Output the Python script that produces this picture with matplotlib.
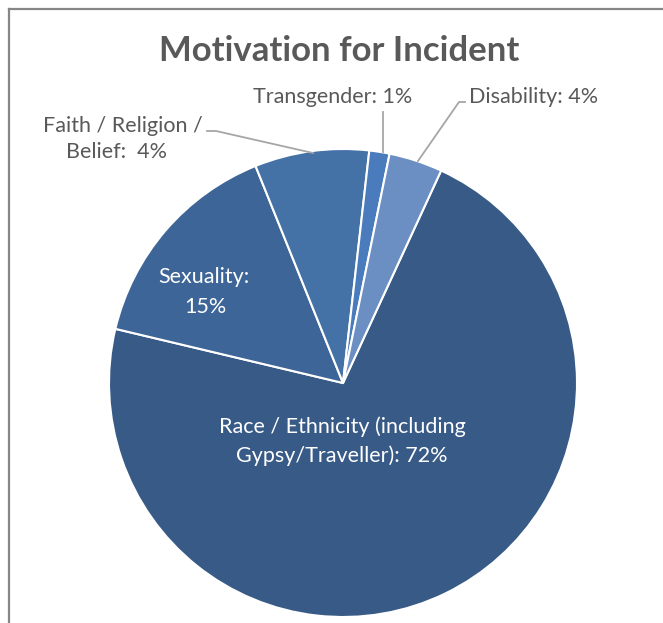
import matplotlib
matplotlib.use("Agg")
import matplotlib.pyplot as plt
from matplotlib.lines import Line2D

# ---- data ----
categories = ["Race / Ethnicity (including Gypsy/Traveller)", "Sexuality",
              "Faith / Religion / Belief", "Transgender", "Disability"]
values = [71.9, 15.2, 7.9, 1.4, 3.7]          # slice sizes as drawn
shown_pct = ["72%", "15%", "4%", "1%", "4%"]   # percentages printed on the labels
colors = ["#385A86", "#3E6597", "#4472A6", "#4A7BBC", "#6B8EC3"]

W, H = 663, 623
fig = plt.figure(figsize=(W / 100, H / 100), dpi=100)
ax = fig.add_axes([0, 0, 1, 1])
ax.set_xlim(0, W)
ax.set_ylim(0, H)
ax.set_aspect("equal")
ax.axis("off")

def Y(y):  # pixel row -> data y
    return H - y

cx, cy, r = 343, 383, 234
ax.pie(values, colors=colors, startangle=65.2, counterclock=False,
       center=(cx, Y(cy)), radius=r, frame=True,
       wedgeprops=dict(edgecolor="white", linewidth=1.5))
ax.set_xlim(0, W)
ax.set_ylim(0, H)
ax.axis("off")

font = "Lato"
gray = "#595959"
lead = "#A6A6A6"

# title
ax.text(339, Y(61), "Motivation for Incident", ha="center", va="baseline",
        fontsize=25, fontweight="bold", color=gray, family=font)

def txt(x, y, s, c=gray):
    ax.text(x, Y(y), s, ha="center", va="baseline", fontsize=15.5,
            color=c, family=font)

txt(122.5, 132, "Faith / Religion /")
txt(116, 158, "Belief:  " + shown_pct[2])
txt(333, 103, categories[3] + ": " + shown_pct[3])
txt(533.5, 103, categories[4] + ": " + shown_pct[4])
txt(204, 283, categories[1] + ":", "white")
txt(205, 313, shown_pct[1], "white")
txt(342.5, 433, "Race / Ethnicity (including", "white")
txt(341.5, 462, "Gypsy/Traveller): " + shown_pct[0], "white")

# leader lines
for xs, ys in [([207, 216, 313], [131, 131, 153]),
               ([383, 383], [112, 152]),
               ([465, 459, 418], [102, 102, 161])]:
    ax.plot(xs, [Y(v) for v in ys], color=lead, linewidth=1.3)

# chart frame (top and left visible)
fig.add_artist(Line2D([9 / W, 9 / W], [0, 1 - 9 / H], color="#868686",
                      linewidth=1.6, transform=fig.transFigure))
fig.add_artist(Line2D([9 / W, 1], [1 - 9 / H, 1 - 9 / H], color="#868686",
                      linewidth=1.6, transform=fig.transFigure))

fig.savefig("out.png", dpi=100, facecolor="white")
